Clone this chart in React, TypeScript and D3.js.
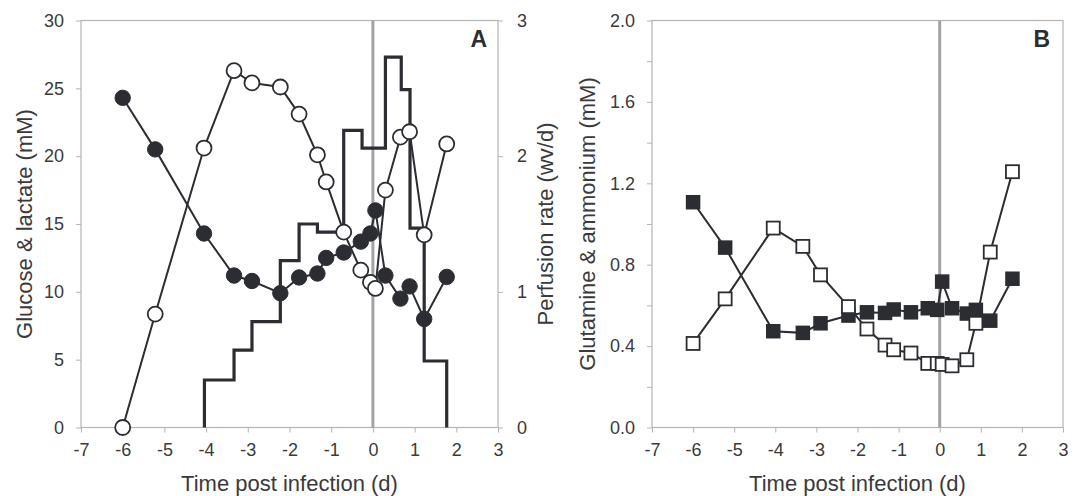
import * as d3 from "d3";
import { useEffect, useRef } from "react";

// sampling times (d post infection), shared by both panels
const days = [-6, -5.22, -4.05, -3.33, -2.9, -2.22, -1.77, -1.33, -1.12, -0.7, -0.29, -0.06, 0.06, 0.3, 0.66, 0.88, 1.23, 1.77];

// panel A
const glucose = [24.3, 20.5, 14.3, 11.2, 10.8, 9.9, 11.06, 11.35, 12.5, 12.9, 13.7, 14.3, 16.0, 11.2, 9.5, 10.4, 8.0, 11.1];
const lactate = [0, 8.36, 20.6, 26.3, 25.4, 25.1, 23.1, 20.1, 18.1, 14.4, 11.6, 10.7, 10.25, 17.5, 21.4, 21.8, 14.2, 20.9];
const perfusionDays = [-4.04, -4.04, -3.33, -2.9, -2.22, -1.77, -1.33, -0.7, -0.26, 0.3, 0.68, 0.89, 1.23, 1.77];
const perfusionRates = [0, 0.35, 0.57, 0.78, 1.23, 1.5, 1.44, 2.19, 2.06, 2.73, 2.49, 1.47, 0.49, 0];

// panel B
const glutamine = [0.413, 0.632, 0.98, 0.89, 0.75, 0.594, 0.484, 0.405, 0.382, 0.366, 0.315, 0.315, 0.31, 0.303, 0.333, 0.512, 0.862, 1.257];
const ammonium = [1.107, 0.884, 0.473, 0.465, 0.512, 0.55, 0.566, 0.563, 0.58, 0.566, 0.586, 0.578, 0.717, 0.586, 0.56, 0.578, 0.525, 0.731];

const xTicks = [-7, -6, -5, -4, -3, -2, -1, 0, 1, 2, 3];
const concTicks = [0, 5, 10, 15, 20, 25, 30];
const rateTicks = [0, 1, 2, 3];
const glnTicks = [0, 0.2, 0.4, 0.6, 0.8, 1.0, 1.2, 1.4, 1.6, 1.8, 2.0];
const glnLabels = ["0.0", "0.4", "0.8", "1.2", "1.6", "2.0"];

const INK = "#2b2d33";
const TEXT = "#3a3a3a";
const AXIS = "#b4b4b4";
const FONT = "'Liberation Sans', Arial, sans-serif";

export default function App() {
  const ref = useRef<SVGSVGElement>(null);

  useEffect(() => {
    if (!ref.current) return;
    const svg = d3.select(ref.current);
    svg.selectAll("*").remove();

    const top = 20.5, bottom = 427.5;

    const styleAxis = (g: any) => {
      g.select(".domain").remove();
      g.selectAll("line").attr("stroke", AXIS).attr("stroke-width", 1);
      g.selectAll("text").attr("fill", TEXT).attr("font-size", 18).attr("font-family", FONT);
    };

    const frame = (x0: number, x1: number) =>
      svg.append("rect")
        .attr("x", x0).attr("y", top)
        .attr("width", x1 - x0).attr("height", bottom - top)
        .attr("fill", "none").attr("stroke", AXIS).attr("stroke-width", 1.2);

    const zeroLine = (x: d3.ScaleLinear<number, number>) =>
      svg.append("line")
        .attr("x1", x(0)).attr("x2", x(0))
        .attr("y1", top).attr("y2", bottom)
        .attr("stroke", "#a3a3a3").attr("stroke-width", 3);

    const plain = (d: any) => String(d);

    const xAxis = (x: d3.ScaleLinear<number, number>) => {
      svg.append("g")
        .attr("transform", `translate(0,${bottom})`)
        .call(d3.axisBottom(x).tickValues(xTicks).tickSize(5).tickSizeOuter(0).tickPadding(11).tickFormat(plain) as any)
        .call(styleAxis);
    };

    const title = (text: string, x: number, y: number, rotate = false) => {
      const t = svg.append("text")
        .attr("text-anchor", "middle")
        .attr("fill", TEXT)
        .attr("font-size", 22)
        .attr("font-family", FONT)
        .text(text);
      if (rotate) t.attr("transform", `translate(${x},${y}) rotate(-90)`);
      else t.attr("x", x).attr("y", y);
    };

    const seriesLine = (
      xs: number[], ys: number[],
      x: d3.ScaleLinear<number, number>, y: d3.ScaleLinear<number, number>,
    ) => {
      svg.append("path")
        .datum(xs.map((d, i) => [d, ys[i]] as [number, number]))
        .attr("fill", "none")
        .attr("stroke", INK)
        .attr("stroke-width", 2)
        .attr("d", d3.line<[number, number]>().x(d => x(d[0])).y(d => y(d[1])));
    };

    // ---------------- Panel A ----------------
    const xA = d3.scaleLinear().domain([-7, 3]).range([81, 498]);
    const yA = d3.scaleLinear().domain([0, 30]).range([bottom, top]);
    const yR = d3.scaleLinear().domain([0, 3]).range([bottom, top]);

    frame(xA(-7), xA(3));
    zeroLine(xA);
    xAxis(xA);

    svg.append("g")
      .attr("transform", `translate(${xA(-7)},0)`)
      .call(d3.axisLeft(yA).tickValues(concTicks).tickSize(5).tickSizeOuter(0).tickPadding(12).tickFormat(plain) as any)
      .call(styleAxis);

    svg.append("g")
      .attr("transform", `translate(${xA(3)},0)`)
      .call(d3.axisRight(yR).tickValues(rateTicks).tickSize(5).tickSizeOuter(0).tickPadding(14).tickFormat(plain) as any)
      .call(styleAxis);

    // perfusion rate steps
    svg.append("path")
      .datum(perfusionDays.map((d, i) => [d, perfusionRates[i]] as [number, number]))
      .attr("fill", "none")
      .attr("stroke", INK)
      .attr("stroke-width", 3.2)
      .attr("d", d3.line<[number, number]>().x(d => xA(d[0])).y(d => yR(d[1])).curve(d3.curveStepAfter));

    seriesLine(days, lactate, xA, yA);
    svg.append("g").selectAll("circle")
      .data(days.map((d, i) => [d, lactate[i]]))
      .join("circle")
      .attr("cx", d => xA(d[0])).attr("cy", d => yA(d[1])).attr("r", 7.5)
      .attr("fill", "#fff").attr("stroke", INK).attr("stroke-width", 1.8);

    seriesLine(days, glucose, xA, yA);
    svg.append("g").selectAll("circle")
      .data(days.map((d, i) => [d, glucose[i]]))
      .join("circle")
      .attr("cx", d => xA(d[0])).attr("cy", d => yA(d[1])).attr("r", 7.7)
      .attr("fill", INK).attr("stroke", INK).attr("stroke-width", 1);

    svg.append("text")
      .attr("x", 487).attr("y", 47)
      .attr("text-anchor", "end")
      .attr("font-weight", "bold").attr("font-size", 23)
      .attr("font-family", FONT).attr("fill", INK)
      .text("A");

    title("Time post infection (d)", (xA(-7) + xA(3)) / 2, 491);
    title("Glucose & lactate (mM)", 32, (top + bottom) / 2, true);
    title("Perfusion rate (wv/d)", 553, (top + bottom) / 2, true);

    // ---------------- Panel B ----------------
    const xB = d3.scaleLinear().domain([-7, 3]).range([652, 1063]);
    const yB = d3.scaleLinear().domain([0, 2]).range([bottom, top]);

    frame(xB(-7), xB(3));
    zeroLine(xB);
    xAxis(xB);

    svg.append("g")
      .attr("transform", `translate(${xB(-7)},0)`)
      .call(d3.axisLeft(yB).tickValues(glnTicks).tickSize(5).tickSizeOuter(0).tickPadding(12)
        .tickFormat((d: any) => {
          const s = d3.format(".1f")(d);
          return glnLabels.includes(s) ? s : "";
        }) as any)
      .call(styleAxis);

    const side = 13;
    seriesLine(days, ammonium, xB, yB);
    svg.append("g").selectAll("rect")
      .data(days.map((d, i) => [d, ammonium[i]]))
      .join("rect")
      .attr("x", d => xB(d[0]) - side / 2).attr("y", d => yB(d[1]) - side / 2)
      .attr("width", side).attr("height", side)
      .attr("fill", INK).attr("stroke", INK).attr("stroke-width", 1.5);

    seriesLine(days, glutamine, xB, yB);
    svg.append("g").selectAll("rect")
      .data(days.map((d, i) => [d, glutamine[i]]))
      .join("rect")
      .attr("x", d => xB(d[0]) - side / 2).attr("y", d => yB(d[1]) - side / 2)
      .attr("width", side).attr("height", side)
      .attr("fill", "#fff").attr("stroke", INK).attr("stroke-width", 1.8);

    svg.append("text")
      .attr("x", 1050).attr("y", 47)
      .attr("text-anchor", "end")
      .attr("font-weight", "bold").attr("font-size", 23)
      .attr("font-family", FONT).attr("fill", INK)
      .text("B");

    title("Time post infection (d)", (xB(-7) + xB(3)) / 2, 491);
    title("Glutamine & ammonium (mM)", 595, (top + bottom) / 2, true);
  }, []);

  return (
    <svg
      ref={ref}
      width={1073}
      height={496}
      style={{ position: "absolute", left: 0, top: 0, background: "#fff" }}
    />
  );
}
